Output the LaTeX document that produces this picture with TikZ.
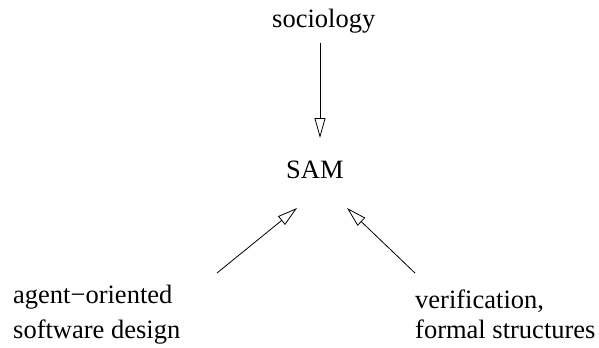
\documentclass[tikz,border=0pt]{standalone}
\usepackage{fontspec}
\setmainfont{Liberation Serif}
\usetikzlibrary{arrows.meta}
\begin{document}
\begin{tikzpicture}[x=1bp,y=-1bp,
  label/.style={inner sep=0pt, anchor=base west, font=\fontsize{26.6}{31}\selectfont},
  arr/.style={-{Triangle[open,length=20bp,width=11bp]}, line width=0.8bp}]
\useasboundingbox (0,0) rectangle (599,347);
% concept labels
\node[label] (soc) at (272,27) {sociology};
\node[label] (sam) at (286,178) {SAM};
\node[label] (aod1) at (13,303) {agent−oriented};
\node[label] (aod2) at (13,338) {software design};
\node[label] (ver1) at (415,308) {verification,};
\node[label] (ver2) at (415,338) {formal structures};
% influences on SAM
\draw[arr] ([shift={(48,16)}]soc.base west) -- ([shift={(34,-40)}]sam.base west);
\draw[arr] ([shift={(204,-30)}]aod1.base west) -- ([shift={(11,30)}]sam.base west);
\draw[arr] ([shift={(0,-35)}]ver1.base west) -- ([shift={(61,30)}]sam.base west);
\end{tikzpicture}
\end{document}
